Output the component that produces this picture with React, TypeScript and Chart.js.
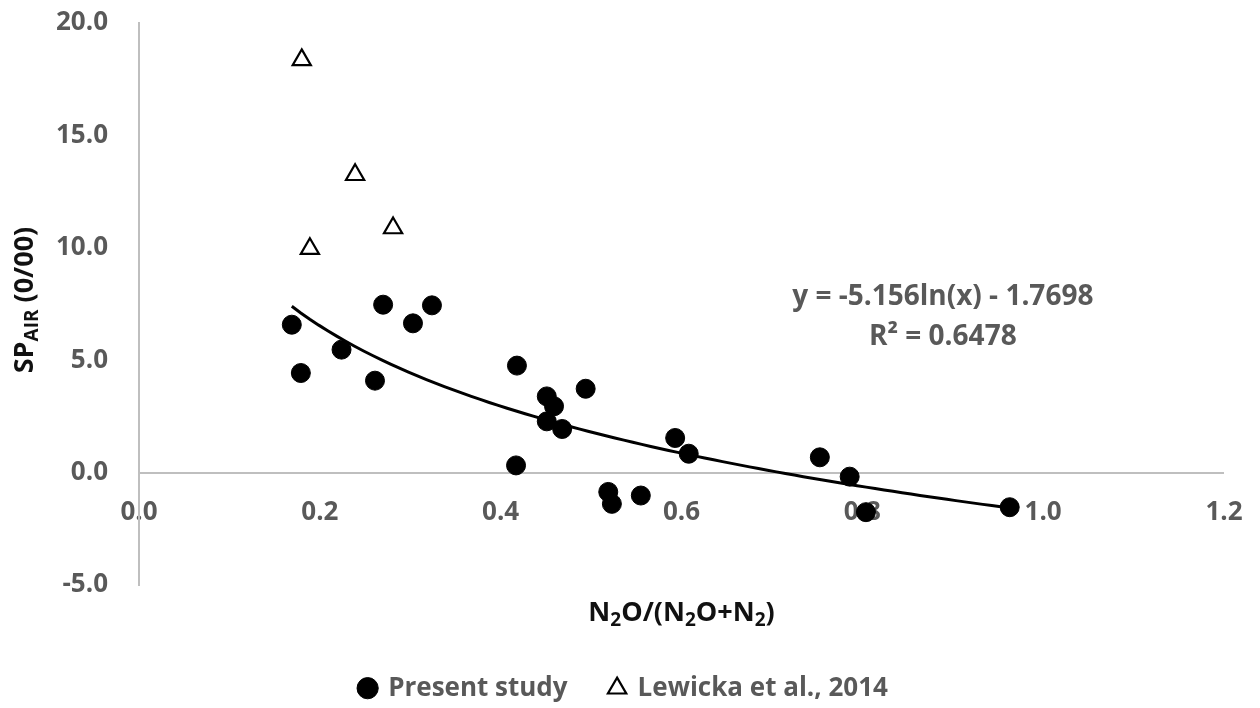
import React, { useEffect, useRef } from "react";
import { Chart, registerables } from "chart.js";

Chart.register(...registerables);

// ---- data ----
const presentX = [0.169, 0.179, 0.224, 0.261, 0.27, 0.303, 0.324, 0.418, 0.417, 0.451, 0.459, 0.451, 0.468, 0.494, 0.519, 0.523, 0.555, 0.593, 0.608, 0.753, 0.786, 0.804, 0.963];
const presentY = [6.58, 4.43, 5.47, 4.09, 7.47, 6.64, 7.44, 4.76, 0.32, 3.39, 2.95, 2.28, 1.94, 3.73, -0.86, -1.39, -1.02, 1.54, 0.84, 0.68, -0.18, -1.76, -1.54];

const lewickaX = [0.18, 0.189, 0.239, 0.281];
const lewickaY = [18.36, 9.96, 13.25, 10.88];

const seriesNames = ["Present study", "Lewicka et al., 2014"];

// displayed logarithmic trendline  y = A ln(x) + B
const TREND_A = -5.156;
const TREND_B = -1.7698;
const equationLines = ["y = -5.156ln(x) - 1.7698", "R\u00B2 = 0.6478"];
const EQ_X = 0.889; // data-space anchor of the equation label
const EQ_Y = 7.47;

const xTickValues = [0, 0.2, 0.4, 0.6, 0.8, 1.0, 1.2];
const yTickValues = [-5, 0, 5, 10, 15, 20];

const FONT = "'Open Sans', 'Noto Sans', sans-serif";
const GRAY = "#595959";
const AXIS_GRAY = "#bfbfbf";
const CLEAR = "rgba(0,0,0,0)";

type Part = { t: string; sub?: boolean };

function drawRich(ctx: CanvasRenderingContext2D, parts: Part[], size: number, color: string) {
  const subSize = Math.round(size * 0.72);
  let total = 0;
  const widths = parts.map((p) => {
    ctx.font = `bold ${p.sub ? subSize : size}px ${FONT}`;
    const w = ctx.measureText(p.t).width;
    total += w;
    return w;
  });
  let x = -total / 2;
  ctx.fillStyle = color;
  ctx.textAlign = "left";
  ctx.textBaseline = "alphabetic";
  parts.forEach((p, i) => {
    ctx.font = `bold ${p.sub ? subSize : size}px ${FONT}`;
    ctx.fillText(p.t, x, p.sub ? 5 : 0);
    x += widths[i];
  });
}

const overlayPlugin = {
  id: "overlay",
  afterLayout(chart: any) {
    // centre the legend row like the reference does
    if (chart.legend) {
      chart.legend.left += 12;
      chart.legend.right += 12;
    }
  },
  afterDraw(chart: any) {
    const { ctx, chartArea, scales } = chart;
    ctx.save();
    // x axis title
    ctx.save();
    ctx.translate((chartArea.left + chartArea.right) / 2, chartArea.bottom + 36);
    drawRich(
      ctx,
      [{ t: "N" }, { t: "2", sub: true }, { t: "O/(N" }, { t: "2", sub: true }, { t: "O+N" }, { t: "2", sub: true }, { t: ")" }],
      27,
      "#111111"
    );
    ctx.restore();
    // y axis title
    ctx.save();
    ctx.translate(33, (chartArea.top + chartArea.bottom) / 2 - 4);
    ctx.rotate(-Math.PI / 2);
    drawRich(ctx, [{ t: "SP" }, { t: "AIR", sub: true }, { t: " (0/00)" }], 27, "#111111");
    ctx.restore();
    // trendline equation
    const ex = scales.x.getPixelForValue(EQ_X);
    const ey = scales.y.getPixelForValue(EQ_Y);
    ctx.font = `bold 28px ${FONT}`;
    ctx.fillStyle = GRAY;
    ctx.textAlign = "center";
    ctx.textBaseline = "alphabetic";
    equationLines.forEach((line, i) => ctx.fillText(line, ex, ey + i * 40));
    ctx.restore();
  },
};

export default function App() {
  const ref = useRef<HTMLCanvasElement | null>(null);

  useEffect(() => {
    if (!ref.current) return;
    const minX = Math.min(...presentX);
    const maxX = Math.max(...presentX);
    const trend: { x: number; y: number }[] = [];
    const n = 80;
    for (let i = 0; i <= n; i++) {
      const x = minX + ((maxX - minX) * i) / n;
      trend.push({ x, y: TREND_A * Math.log(x) + TREND_B });
    }

    const tickFont = { family: FONT, size: 26, weight: "bold" as const };

    const chart = new Chart(ref.current, {
      type: "scatter",
      data: {
        datasets: [
          {
            label: seriesNames[0],
            data: presentX.map((x, i) => ({ x, y: presentY[i] })),
            pointStyle: "circle",
            pointRadius: 9.5,
            pointHoverRadius: 9.5,
            backgroundColor: "#000000",
            borderColor: "#000000",
            borderWidth: 1,
          },
          {
            label: seriesNames[1],
            data: lewickaX.map((x, i) => ({ x, y: lewickaY[i] })),
            pointStyle: "triangle",
            pointRadius: 10.5,
            pointHoverRadius: 10.5,
            backgroundColor: "#ffffff",
            borderColor: "#000000",
            borderWidth: 2.2,
          },
          {
            label: "trend",
            data: trend,
            showLine: true,
            pointRadius: 0,
            pointHoverRadius: 0,
            borderColor: "#000000",
            backgroundColor: "#000000",
            borderWidth: 3,
            fill: false,
          } as any,
        ],
      },
      options: {
        responsive: false,
        animation: false,
        events: [],
        layout: { padding: { left: 0, top: 23, right: 36, bottom: 0 } },
        plugins: {
          tooltip: { enabled: false },
          legend: {
            position: "bottom",
            maxHeight: 123,
            title: { display: true, text: "", padding: { top: 47, bottom: 0 }, font: { size: 1 } },
            labels: {
              usePointStyle: true,
              boxWidth: 15,
              boxHeight: 15,
              padding: 42,
              color: GRAY,
              font: tickFont,
              filter: (item: any) => item.datasetIndex < 2,
            },
          },
        },
        scales: {
          x: {
            type: "linear",
            position: { y: 0 } as any,
            min: 0,
            max: 1.2,
            z: 1,
            border: { display: false },
            grid: {
              display: true,
              drawOnChartArea: false,
              drawTicks: true,
              tickLength: 24,
              color: CLEAR,
              tickColor: CLEAR,
            },
            afterBuildTicks: (s: any) => {
              s.ticks = xTickValues.map((v) => ({ value: v }));
            },
            ticks: {
              padding: 0,
              color: GRAY,
              font: tickFont,
              autoSkip: false,
              maxRotation: 0,
              callback: (v: any) => Number(v).toFixed(1),
            },
          },
          y: {
            type: "linear",
            position: "left",
            min: -5,
            max: 20,
            afterFit: (s: any) => {
              s.width = 139;
            },
            afterBuildTicks: (s: any) => {
              s.ticks = yTickValues.map((v) => ({ value: v }));
            },
            border: { display: true, color: AXIS_GRAY, width: 2 },
            grid: {
              drawTicks: true,
              tickLength: 31,
              tickColor: CLEAR,
              lineWidth: 2,
              color: (c: any) => (c.tick && c.tick.value === 0 ? AXIS_GRAY : CLEAR),
            },
            ticks: {
              padding: 0,
              color: GRAY,
              font: tickFont,
              callback: (v: any) => Number(v).toFixed(1),
            },
          },
        },
      },
      plugins: [overlayPlugin],
    });
    return () => chart.destroy();
  }, []);

  return (
    <div style={{ position: "fixed", left: 0, top: 0, width: 1260, height: 708, background: "#ffffff" }}>
      <canvas ref={ref} width={1260} height={708} style={{ display: "block", width: 1260, height: 708 }} />
    </div>
  );
}
